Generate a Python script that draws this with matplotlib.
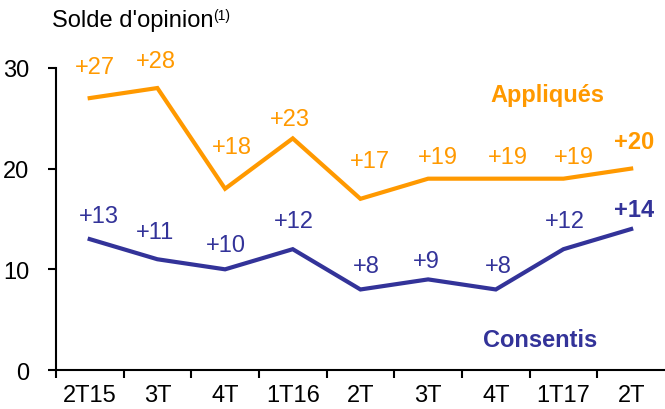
import matplotlib.pyplot as plt

plt.rcParams['font.family'] = ['Liberation Sans', 'DejaVu Sans']

# data
quarters = ["2T15", "3T", "4T", "1T16", "2T", "3T", "4T", "1T17", "2T"]
appliques = [27, 28, 18, 23, 17, 19, 19, 19, 20]
consentis = [13, 11, 10, 12, 8, 9, 8, 12, 14]

orange = "#FF9900"
purple = "#333399"
fs = 17

# label offsets (pixels) from each point
off_app = [(5, 31), (-2, 27), (7, 42), (-3, 19), (10, 38), (10, 22), (12, 22), (10, 22), (3, 27)]
off_con = [(9, 23), (-2, 27), (1, 24), (1, 28), (6, 23), (-2, 18), (3, 23), (1, 28), (3, 20)]

fig = plt.figure(figsize=(6.65, 4.1), dpi=100)
ax = fig.add_axes([0.084, 0.095, 0.916, 0.737])

x = list(range(len(quarters)))
ax.plot(x, appliques, color=orange, lw=3.0, solid_joinstyle='miter')
ax.plot(x, consentis, color=purple, lw=3.0, solid_joinstyle='miter')

n = len(quarters)
for i in range(n):
    bold = 'bold' if i == n - 1 else 'normal'
    ax.annotate("+%d" % appliques[i], (i, appliques[i]), xytext=off_app[i],
                textcoords='offset pixels', ha='center', va='center',
                color=orange, fontsize=fs, fontweight=bold)
    ax.annotate("+%d" % consentis[i], (i, consentis[i]), xytext=off_con[i],
                textcoords='offset pixels', ha='center', va='center',
                color=purple, fontsize=fs, fontweight=bold)

ax.text(6.76, 27.4, "Appliqués", color=orange, fontsize=fs, fontweight='bold',
        ha='center', va='center')
ax.text(6.65, 3.0, "Consentis", color=purple, fontsize=fs, fontweight='bold',
        ha='center', va='center')

ax.set_xlim(-0.5, n - 0.5)
ax.set_ylim(0, 30)
ax.set_yticks([0, 10, 20, 30])
ax.set_xticks([i - 0.5 for i in range(n)])
ax.set_xticklabels([])
ax.set_xticks(x, minor=True)
ax.set_xticklabels(quarters, minor=True)
ax.tick_params(axis='x', which='major', length=6, width=1.5, direction='out')
ax.tick_params(axis='x', which='minor', length=0, pad=10, labelsize=fs)
ax.tick_params(axis='y', length=6, width=1.5, pad=13, labelsize=fs)

for s in ['top', 'right']:
    ax.spines[s].set_visible(False)
for s in ['left', 'bottom']:
    ax.spines[s].set_linewidth(1.5)
ax.spines['left'].set_bounds(0, 30)

fig.text(52 / 665, 1 - 21 / 410, "Solde d'opinion", fontsize=fs, va='center', ha='left')
fig.text(213 / 665, 1 - 16 / 410, "(1)", fontsize=10, va='center', ha='left')

fig.savefig("out.png", dpi=100)
